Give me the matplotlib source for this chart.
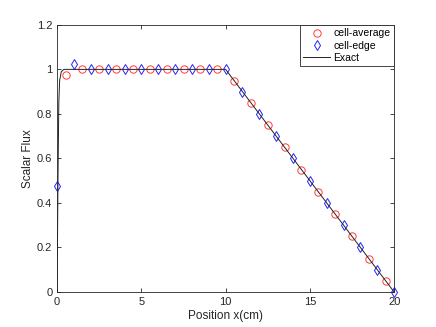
import matplotlib.pyplot as plt

plt.rcParams['font.family'] = ['Liberation Sans', 'DejaVu Sans']

# cell-average values at cell centres
avg_x = [0.5, 1.5, 2.5, 3.5, 4.5, 5.5, 6.5, 7.5, 8.5, 9.5,
         10.5, 11.5, 12.5, 13.5, 14.5, 15.5, 16.5, 17.5, 18.5, 19.5]
avg_y = [0.975, 1.0, 1.0, 1.0, 1.0, 1.0, 1.0, 1.0, 1.0, 1.0,
         0.95, 0.85, 0.75, 0.65, 0.55, 0.45, 0.35, 0.25, 0.15, 0.05]

# cell-edge values
edge_x = [0, 1, 2, 3, 4, 5, 6, 7, 8, 9, 10,
          11, 12, 13, 14, 15, 16, 17, 18, 19, 20]
edge_y = [0.475, 1.025, 1.0, 1.0, 1.0, 1.0, 1.0, 1.0, 1.0, 1.0, 1.0,
          0.9, 0.8, 0.7, 0.6, 0.5, 0.4, 0.3, 0.2, 0.1, 0.0]

# exact solution
exact_x = [0, 0.05, 0.1, 0.15, 0.25, 0.4, 10, 20]
exact_y = [0, 0.5, 0.85, 0.95, 0.99, 1.0, 1.0, 0.0]

fig = plt.figure(figsize=(4.36, 3.27), dpi=100)
ax = fig.add_axes([0.131, 0.107, 0.773, 0.817])

ax.plot(avg_x, avg_y, 'o', mfc='none', mec='#ff3b3b', ms=5.3, mew=0.7,
        label='cell-average', clip_on=False)
ax.plot(edge_x, edge_y, 'd', mfc='none', mec='#2222ff', ms=5.5, mew=0.7,
        label='cell-edge', clip_on=False)
ax.plot(exact_x, exact_y, '-', color='#222222', lw=0.7, label='Exact')

ax.set_xlim(0, 20)
ax.set_ylim(0, 1.2)
ax.set_xticks([0, 5, 10, 15, 20])
ax.set_yticks([0, 0.2, 0.4, 0.6, 0.8, 1.0, 1.2])
ax.set_yticklabels(['0', '0.2', '0.4', '0.6', '0.8', '1', '1.2'])
ax.tick_params(direction='in', length=3, width=0.6, labelsize=8, colors='#262626',
               top=True, right=True, labeltop=False, labelright=False)
for s in ax.spines.values():
    s.set_color('#262626')
    s.set_linewidth(0.6)

ax.set_xlabel('Position x(cm)', fontsize=8.5, color='#262626', labelpad=2)
ax.set_ylabel('Scalar Flux', fontsize=8.5, color='#262626', labelpad=2)

leg = ax.legend(loc='upper right', fontsize=7.5, fancybox=False, framealpha=1,
                edgecolor='#262626', borderaxespad=0, handlelength=2.6,
                handletextpad=0.3, labelspacing=0.2, borderpad=0.35)
leg.get_frame().set_linewidth(0.6)

fig.savefig('out.png', dpi=100)
